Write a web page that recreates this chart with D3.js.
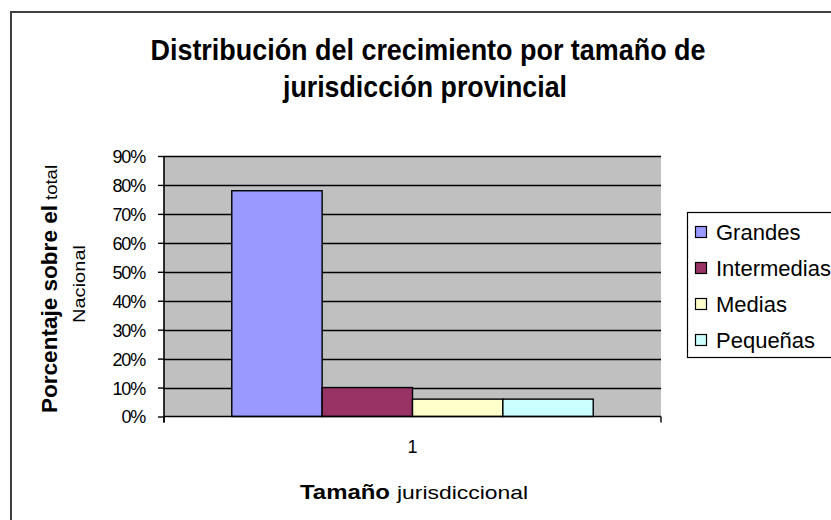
<!DOCTYPE html>
<html>
<head>
<meta charset="utf-8">
<script src="https://cdn.jsdelivr.net/npm/d3@7"></script>
<style>
  body { margin:0; background:#fff; }
  svg { display:block; font-family:"Liberation Sans", Arial, sans-serif; }
</style>
</head>
<body>
<svg id="chart" width="831" height="520"></svg>
<script>
// data
const categories = ['1'];
const seriesNames = ['Grandes', 'Intermedias', 'Medias', 'Pequeñas'];
const seriesValues = [0.78, 0.10, 0.06, 0.06];
const seriesColors = ['#9999ff', '#993366', '#ffffcc', '#ccffff'];
const yTicks = [0, 0.1, 0.2, 0.3, 0.4, 0.5, 0.6, 0.7, 0.8, 0.9];

const svg = d3.select('#chart');

// outer chart border (runs past the right/bottom edge)
svg.append('rect')
   .attr('x', 11).attr('y', 12)
   .attr('width', 840).attr('height', 530)
   .attr('fill', 'none')
   .attr('stroke', '#404040')
   .attr('stroke-width', 2);

// title
svg.append('text')
   .attr('x', 428).attr('y', 60)
   .attr('text-anchor', 'middle')
   .attr('font-size', 29).attr('font-weight', 'bold')
   .attr('textLength', 555).attr('lengthAdjust', 'spacingAndGlyphs')
   .text('Distribución del crecimiento por tamaño de');
svg.append('text')
   .attr('x', 425).attr('y', 97)
   .attr('text-anchor', 'middle')
   .attr('font-size', 29).attr('font-weight', 'bold')
   .attr('textLength', 284).attr('lengthAdjust', 'spacingAndGlyphs')
   .text('jurisdicción provincial');

const plot = { left:164, right:661, top:156, bottom:416.5 };

const x0 = d3.scaleBand().domain(categories).range([plot.left, plot.right]);
// gap width 150% -> bars take 4/(4+1.5) of the band
const bandStart = x0(categories[0]);
const x1 = d3.scaleBand().domain(seriesNames)
   .range([bandStart + x0.bandwidth()*0.75/5.5, bandStart + x0.bandwidth()*(1 - 0.75/5.5)]);
const y = d3.scaleLinear().domain([0, 0.9]).range([plot.bottom, plot.top]);

// plot background
svg.append('rect')
   .attr('x', plot.left).attr('y', plot.top)
   .attr('width', plot.right - plot.left).attr('height', plot.bottom - plot.top)
   .attr('fill', '#c0c0c0');

// gridlines
svg.append('g').selectAll('line').data(yTicks.slice(1))
   .join('line')
   .attr('x1', plot.left).attr('x2', plot.right)
   .attr('y1', d => Math.round(y(d)) + 0.5).attr('y2', d => Math.round(y(d)) + 0.5)
   .attr('stroke', '#000').attr('stroke-width', 1.4);

// bars
svg.append('g').selectAll('rect').data(seriesNames)
   .join('rect')
   .attr('x', d => x1(d))
   .attr('y', (d,i) => y(seriesValues[i]))
   .attr('width', x1.bandwidth())
   .attr('height', (d,i) => plot.bottom - y(seriesValues[i]))
   .attr('fill', (d,i) => seriesColors[i])
   .attr('stroke', '#000')
   .attr('stroke-width', 1.4);

// y axis
const yAxis = svg.append('g')
   .attr('transform', `translate(${plot.left},0)`)
   .call(d3.axisLeft(y).tickValues(yTicks).tickFormat(d3.format('.0%')).tickSize(6).tickPadding(13));
yAxis.select('.domain').attr('stroke', '#000').attr('stroke-width', 1.6).attr('d', `M0,${plot.top}V${plot.bottom + 6}`);
yAxis.selectAll('.tick line').attr('stroke', '#000').attr('stroke-width', 1.4);
yAxis.selectAll('.tick text').attr('font-size', 18).attr('fill', '#000')
   .attr('font-family', '"Liberation Sans", Arial, sans-serif').attr('letter-spacing', -1.2)
   .attr('dy', '0.36em');

// x axis
const xAxis = svg.append('g')
   .attr('transform', `translate(0,${plot.bottom})`)
   .call(d3.axisBottom(x0).tickSize(0).tickPadding(24));
xAxis.select('.domain').attr('stroke', '#000').attr('stroke-width', 1.6)
   .attr('d', `M${plot.left},0H${plot.right}`);
xAxis.selectAll('.tick text').attr('font-size', 18).attr('fill', '#000')
   .attr('font-family', '"Liberation Sans", Arial, sans-serif');
xAxis.append('g').selectAll('line').data([plot.left, plot.right])
   .join('line')
   .attr('x1', d => d).attr('x2', d => d)
   .attr('y1', 0).attr('y2', 6)
   .attr('stroke', '#000').attr('stroke-width', 1.4);

// x axis title
svg.append('text')
   .attr('x', 300).attr('y', 499)
   .attr('font-size', 21).attr('font-weight', 'bold')
   .attr('textLength', 90).attr('lengthAdjust', 'spacingAndGlyphs')
   .text('Tamaño');
svg.append('text')
   .attr('x', 397).attr('y', 499)
   .attr('font-size', 19)
   .attr('textLength', 131).attr('lengthAdjust', 'spacingAndGlyphs')
   .text('jurisdiccional');

// y axis title
svg.append('text')
   .attr('transform', 'translate(57,413) rotate(-90)')
   .attr('font-size', 22).attr('font-weight', 'bold')
   .attr('textLength', 208).attr('lengthAdjust', 'spacingAndGlyphs')
   .text('Porcentaje sobre el');
svg.append('text')
   .attr('transform', 'translate(57,200) rotate(-90)')
   .attr('font-size', 17)
   .attr('textLength', 35).attr('lengthAdjust', 'spacingAndGlyphs')
   .text('total');
svg.append('text')
   .attr('transform', 'translate(85,323) rotate(-90)')
   .attr('font-size', 17)
   .attr('textLength', 78).attr('lengthAdjust', 'spacingAndGlyphs')
   .text('Nacional');

// legend
const legend = svg.append('g');
legend.append('rect')
   .attr('x', 687.5).attr('y', 212.5)
   .attr('width', 160).attr('height', 145)
   .attr('fill', '#fff').attr('stroke', '#000').attr('stroke-width', 1.2);
const legendY = d3.scalePoint().domain(seriesNames).range([232, 340]);
const items = legend.selectAll('g.item').data(seriesNames).join('g').attr('class', 'item')
   .attr('transform', d => `translate(0,${legendY(d)})`);
items.append('rect')
   .attr('x', 695.5).attr('y', -5.5).attr('width', 11).attr('height', 11)
   .attr('fill', (d,i) => seriesColors[i])
   .attr('stroke', '#000').attr('stroke-width', 1.2);
items.append('text')
   .attr('x', 716).attr('y', 8)
   .attr('font-size', 22)
   .attr('fill', '#000')
   .text(d => d);
</script>
</body>
</html>
